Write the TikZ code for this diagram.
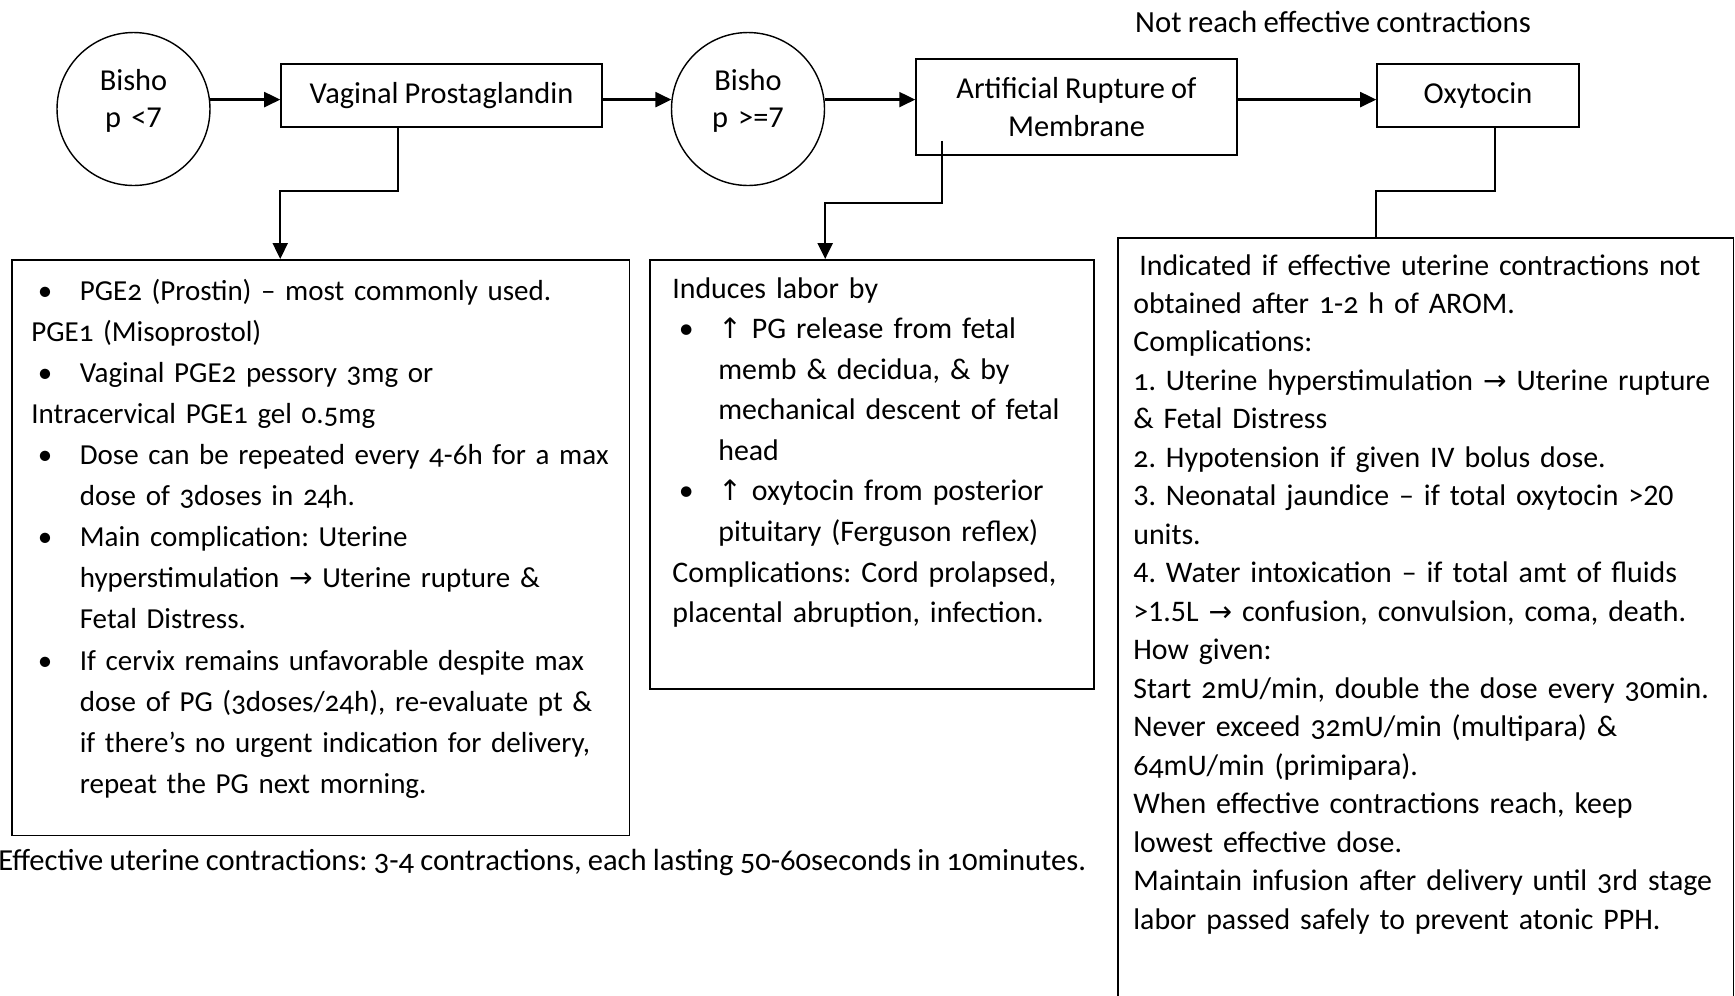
\documentclass[tikz,border=0pt]{standalone}
\usepackage{fontspec}
\setmainfont{Carlito}[Numbers=OldStyle, WordSpace=0.9]
\newfontfamily\liningfont{Carlito}[WordSpace=0.9]
\newfontfamily\arrowfont{DejaVu Sans}
\usepackage{tikz}
\usetikzlibrary{arrows.meta, positioning, calc}
\frenchspacing
\newcommand{\rarr}{{\arrowfont\fontsize{16}{16}\selectfont →}}
\newcommand{\uarr}{{\arrowfont\fontsize{16}{16}\selectfont ↑}}
\newcommand{\bul}[1][0.84cm]{\hspace*{0.13cm}\makebox[#1][l]{\textbullet}}
\newcommand{\cnt}[1][0.97cm]{\hspace*{#1}}
\begin{document}
\begin{tikzpicture}[x=0.02cm, y=-0.02cm,
    font=\fontsize{17}{23.4}\selectfont,
    bish/.style={circle, draw, line width=0.8pt, minimum size=3.06cm, inner sep=0pt},
    stepbox/.style={draw, line width=0.9pt, align=center, inner sep=0pt,
        font=\fontsize{17.3}{21.6}\selectfont},
    panel/.style={draw, line width=0.9pt, anchor=north west, inner sep=0pt},
    txt/.style={anchor=base west, inner sep=0pt, text width=#1, align=left},
    arr/.style={line width=1.3pt, -{Triangle[length=0.32cm, width=0.3cm]}},
    link/.style={line width=1.3pt}]

\useasboundingbox (0,0) rectangle (1735,995);

\node[bish] (bisA) at (133.5,109) {};
\node[anchor=base, text width=2.4cm, align=center, inner sep=0pt,
    font=\fontsize{17.3}{21.6}\selectfont] (bisAtxt)
    at ([yshift=0.38cm]bisA.center) {Bisho\\{\liningfont p <7}};
\node[stepbox, minimum width=6.42cm, minimum height=1.26cm] (vagPG) at (441.5,95.5)
    {Vaginal Prostaglandin};
\node[bish] (bisB) at (748,109) {};
\node[anchor=base, text width=2.4cm, align=center, inner sep=0pt,
    font=\fontsize{17.3}{21.6}\selectfont] (bisBtxt)
    at ([yshift=0.38cm]bisB.center) {Bisho\\{\liningfont p >=7}};
\node[stepbox, minimum width=6.42cm, minimum height=1.92cm] (arm) at (1076.5,107)
    {Artificial Rupture of\\Membrane};
\node[stepbox, minimum width=4.04cm, minimum height=1.26cm] (oxy) at (1478,95.5)
    {Oxytocin};
\node[anchor=base, inner sep=0pt, font=\fontsize{17.5}{21.6}\selectfont] (notreach)
    at (1333,32) {Not reach effective contractions};

\node[panel, minimum width=12.36cm, minimum height=11.52cm] (pgBox) at (11,259) {};
\node[panel, minimum width=8.88cm, minimum height=8.58cm] (indBox) at (649,259) {};
\node[panel, minimum width=12.32cm, minimum height=16cm] (oxyBox) at (1117,237) {};

\draw[arr] (bisA.7) -- (bisA.7 -| vagPG.west);
\draw[arr] (vagPG.east |- bisB.173) -- (bisB.173);
\draw[arr] (bisB.7) -- (bisB.7 -| arm.west);
\draw[arr] (arm.east |- bisB.7) -- (oxy.west |- bisB.7);
\draw[arr] ([xshift=-0.87cm]vagPG.south) -- ++(0,63) -| (vagPG.west |- pgBox.north);
\draw[arr] ([xshift=-2.69cm, yshift=0.3cm]arm.south) -- ++(0,62) -| (bisB.east |- indBox.north);
\draw[link] ([xshift=0.34cm]oxy.south) -- ++(0,63) -| (oxy.west |- oxyBox.north);

\node[txt=16cm, font=\fontsize{16.5}{23.4}\selectfont] (pgTxt) at (31,300) {%
\bul PGE2 (Prostin) – most commonly used.\\
PGE1 (Misoprostol)\\
\bul Vaginal PGE2 pessory 3mg or\\
Intracervical PGE1 gel 0.5mg\\
\bul Dose can be repeated every 4-6h for a max\\
\cnt dose of 3doses in 24h.\\
\bul Main complication: Uterine\\
\cnt hyperstimulation \rarr{} Uterine rupture \&\\
\cnt Fetal Distress.\\
\bul If cervix remains unfavorable despite max\\
\cnt dose of PG (3doses/24h), re-evaluate pt \&\\
\cnt if there’s no urgent indication for delivery,\\
\cnt repeat the PG next morning.};

\node[txt=12cm, font=\fontsize{17}{23.1}\selectfont] (indTxt) at (672,298) {%
Induces labor by\\
\bul[0.79cm]\uarr{} PG release from fetal\\
\cnt[0.92cm]memb \& decidua, \& by\\
\cnt[0.92cm]mechanical descent of fetal\\
\cnt[0.92cm]head\\
\bul[0.79cm]\uarr{} oxytocin from posterior\\
\cnt[0.92cm]pituitary (Ferguson reflex)\\
Complications: Cord prolapsed,\\
placental abruption, infection.};

\node[txt=16cm, font=\fontsize{17}{21.9}\selectfont] (oxyTxt) at (1133,275) {%
\hspace*{0.12cm}Indicated if effective uterine contractions not\\
obtained after 1-2 h of AROM.\\
Complications:\\
1. Uterine hyperstimulation \rarr{} Uterine rupture\\
\& Fetal Distress\\
2. Hypotension if given IV bolus dose.\\
{\liningfont 3.} Neonatal jaundice – if total oxytocin {\liningfont >20}\\
units.\\
{\liningfont 4.} Water intoxication – if total amt of fluids\\
{\liningfont >1.5L} \rarr{} confusion, convulsion, coma, death.\\
How given:\\
Start 2mU/min, double the dose every 30min.\\
Never exceed 32mU/min (multipara) \&\\
64mU/min (primipara).\\
When effective contractions reach, keep\\
lowest effective dose.\\
Maintain infusion after delivery until 3rd stage\\
labor passed safely to prevent atonic PPH.};

\node[anchor=base west, inner sep=0pt, font=\fontsize{17.4}{21.6}\selectfont] (effnote) at (-2,870)
    {Effective uterine contractions: 3-4 contractions, each lasting 50-60seconds in 10minutes.};
\end{tikzpicture}
\end{document}
